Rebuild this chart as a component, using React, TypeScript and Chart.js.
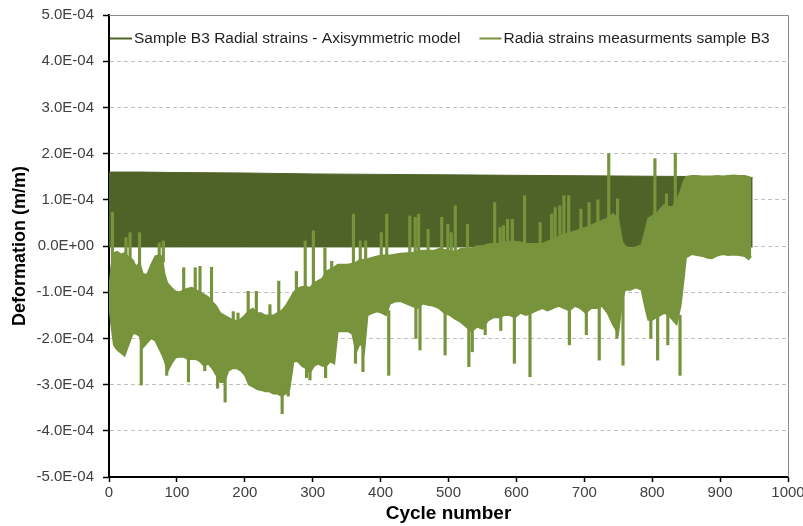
import { useEffect, useRef } from 'react';
import { Chart, registerables } from 'chart.js';

Chart.register(...registerables);

// All deformation values below are in units of 1E-04 m/m
const UNIT = 1e-4;

const MODEL_LABEL = 'Sample B3 Radial strains - Axisymmetric model';
const MEAS_LABEL = 'Radia strains measurments sample B3';

const X_TICKS = [0, 100, 200, 300, 400, 500, 600, 700, 800, 900, 1000];
const Y_TICKS = [-5, -4, -3, -2, -1, 0, 1, 2, 3, 4, 5];

// Axisymmetric model: oscillating band (per-cycle peak / trough)
const MODEL_CYCLES = [0, 50, 100, 200, 300, 400, 500, 600, 700, 800, 900, 948];
const MODEL_UPPER = [1.6, 1.6, 1.59, 1.58, 1.56, 1.55, 1.54, 1.53, 1.52, 1.51, 1.5, 1.48];
const MODEL_LOWER = [-0.02, -0.02, -0.02, -0.02, -0.02, -0.02, -0.02, -0.02, -0.02, -0.02, -0.02, -0.02];

// Measurements: envelope of the measured signal
const MEAS_CYCLES = [
  0, 3, 7, 12, 18, 23, 30, 35, 40, 45, 50, 56,
  62, 68, 73, 78, 82, 86, 92, 98, 104, 110, 116, 122,
  128, 134, 140, 146, 152, 158, 164, 170, 176, 182, 188, 194,
  200, 206, 212, 218, 224, 230, 236, 242, 248, 254, 260, 266,
  272, 278, 284, 290, 296, 302, 308, 314, 320, 326, 332, 337,
  345, 352, 358, 364, 370, 376, 381, 388, 395, 402, 408, 414,
  422, 430, 438, 446, 454, 462, 470, 478, 486, 494, 502, 510,
  518, 526, 534, 542, 550, 558, 566, 574, 582, 590, 598, 606,
  614, 622, 630, 638, 646, 654, 662, 670, 678, 686, 694, 702,
  710, 718, 726, 734, 742, 750, 756, 760, 768, 776, 784, 789,
  794, 800, 806, 812, 818, 824, 830, 836, 842, 846, 850, 858,
  866, 874, 882, 888, 896, 904, 912, 920, 928, 936, 942, 946,
];
const MEAS_UPPER = [
  -0.95, -0.45, -0.15, -0.12, -0.18, -0.15, -0.25, -0.3, -0.45, -0.35, -0.6, -0.62,
  -0.4, -0.22, -0.2, -0.22, -0.6, -0.8, -0.9, -0.98, -1.0, -0.95, -0.92, -0.9,
  -0.95, -1.0, -1.05, -1.1, -1.2, -1.3, -1.45, -1.5, -1.55, -1.6, -1.62, -1.58,
  -1.5, -1.4, -1.35, -1.45, -1.45, -1.5, -1.5, -1.5, -1.45, -1.4, -1.3, -1.15,
  -1.0, -0.92, -0.88, -0.88, -0.9, -0.8, -0.75, -0.7, -0.55, -0.5, -0.45, -0.4,
  -0.4, -0.4, -0.38, -0.35, -0.3, -0.3, -0.28, -0.25, -0.22, -0.2, -0.2, -0.2,
  -0.18, -0.16, -0.15, -0.15, -0.12, -0.1, -0.1, -0.1, -0.06, -0.08, -0.1, -0.12,
  -0.06, -0.05, -0.05, 0.0, 0.0, 0.04, 0.05, 0.05, 0.08, 0.1, 0.1, 0.08,
  0.05, 0.05, 0.05, 0.05, 0.1, 0.15, 0.2, 0.25, 0.28, 0.32, 0.36, 0.4,
  0.45, 0.5, 0.55, 0.6, 0.7, 0.6, 0.1, 0.0, -0.05, -0.02, 0.02, 0.3,
  0.6, 0.65, 0.7, 0.8, 0.9, 0.85, 0.85, 1.0, 1.2, 1.4, 1.5, 1.52,
  1.52, 1.51, 1.51, 1.51, 1.52, 1.51, 1.52, 1.53, 1.52, 1.52, 1.5, 1.48,
];
const MEAS_LOWER = [
  -1.25, -1.7, -2.15, -2.25, -2.32, -2.38, -2.1, -1.9, -1.9, -1.95, -2.2, -2.1,
  -2.0, -2.05, -2.2, -2.35, -2.5, -2.72, -2.55, -2.42, -2.4, -2.4, -2.45, -2.45,
  -2.45, -2.5, -2.6, -2.55, -2.65, -2.8, -2.95, -2.95, -2.7, -2.65, -2.65, -2.7,
  -2.8, -3.0, -3.05, -3.1, -3.12, -3.15, -3.15, -3.2, -3.2, -3.25, -3.2, -3.1,
  -2.5, -2.5, -2.6, -2.65, -2.75, -2.6, -2.55, -2.6, -2.6, -2.5, -2.55, -1.85,
  -1.85, -1.85, -1.9, -2.3, -2.1, -2.3, -1.5, -1.45, -1.42, -1.45, -1.5, -1.25,
  -1.2, -1.2, -1.25, -1.3, -1.35, -1.25, -1.28, -1.3, -1.35, -1.45, -1.5, -1.58,
  -1.65, -1.75, -1.85, -1.75, -1.8, -1.62, -1.55, -1.55, -1.5, -1.5, -1.55, -1.45,
  -1.5, -1.45, -1.4, -1.35, -1.4, -1.35, -1.3, -1.35, -1.4, -1.3, -1.35, -1.45,
  -1.35, -1.35, -1.3, -1.45, -1.7, -1.9, -1.2, -0.95, -0.95, -0.9, -0.95, -1.3,
  -1.6, -1.6, -1.55, -1.5, -1.45, -1.5, -1.6, -1.7, -1.3, -0.8, -0.25, -0.18,
  -0.2, -0.22, -0.26, -0.27, -0.21, -0.18, -0.2, -0.19, -0.2, -0.22, -0.29, -0.22,
];

// Measurements: isolated spikes / dips (from -> to)
const SPIKE_CYCLES = [
  5, 25, 31, 45, 47.5, 74, 80, 85, 110, 117, 127, 134,
  141, 151, 160, 171, 183, 190, 205, 217, 237, 250, 255, 264,
  276, 289, 291, 296, 301, 318, 319, 328, 360, 363, 370, 374,
  378, 401, 409, 412, 443, 451, 452, 456, 458, 470, 490, 495,
  499, 504, 510, 528, 530, 535, 554, 568, 576, 577, 581, 587,
  594, 597, 612, 620, 635, 652, 657, 664, 670, 677, 678, 695,
  703, 707, 720, 722, 736, 748, 749, 757, 798, 804, 808, 821,
  823, 834, 841,
];
const SPIKE_FROM = [
  -0.5, -0.3, -0.4, -0.5, -2.0, -0.3, -0.35, -2.5, -1.05, -2.3, -1.05, -1.1,
  -2.5, -1.3, -2.7, -2.8, -1.7, -1.7, -1.5, -1.55, -1.6, -1.55, -3.1, -3.0,
  -1.1, -1.0, -2.5, -2.6, -0.9, -0.8, -2.5, -0.6, -0.5, -2.1, -0.4, -2.0,
  -0.4, -0.3, -0.3, -1.4, -0.25, -0.25, -1.2, -0.25, -1.2, -0.2, -0.2, -1.3,
  -0.2, -0.2, -0.2, -0.15, -1.6, -1.7, -1.7, -0.1, -0.1, -1.45, -0.1, -0.05,
  -0.05, -1.4, -0.05, -1.4, -0.05, 0.0, 0.0, 0.1, 0.1, 0.15, -1.3, 0.2,
  -1.3, 0.3, 0.4, -1.2, 0.5, -1.7, 0.5, -0.9, -1.5, 0.5, -1.4, 0.7,
  -1.4, 0.7, -1.5,
];
const SPIKE_TO = [
  0.73, 0.18, 0.29, 0.29, -3.01, 0.07, 0.11, -2.8, -0.47, -2.94, -0.47, -0.44,
  -2.7, -0.46, -3.08, -3.38, -1.42, -1.45, -0.98, -0.98, -1.27, -0.76, -3.63, -3.25,
  -0.55, 0.11, -2.85, -2.9, 0.33, -0.04, -2.85, -0.33, 0.69, -2.54, 0.11, -2.72,
  0.11, 0.29, 0.69, -2.8, 0.65, 0.62, -2.0, 0.69, -2.25, 0.36, 0.62, -2.36,
  0.47, 0.29, 0.87, 0.47, -2.61, -2.29, -1.92, 0.94, 0.4, -1.83, 0.44, 0.58,
  0.58, -2.54, 1.09, -2.83, 0.51, 0.69, 0.83, 0.87, 1.09, 1.09, -2.14, 0.8,
  -1.92, 0.94, 1.0, -2.47, 2.0, -2.0, 1.02, -2.58, -2.0, 1.89, -2.47, 1.13,
  -2.14, 2.01, -2.8,
];

const DARK = '#4F6228';
const GREEN = '#77933C';
const FONT = "'Liberation Sans', Arial, sans-serif";

function pts(cycles: number[], vals: number[]) {
  return cycles.map((c, i) => ({ x: c, y: vals[i] * UNIT }));
}

function fmtExp(v: number) {
  const [m, e] = Number(v).toExponential(1).split('e');
  const n = parseInt(e, 10);
  const sign = n < 0 ? '-' : '+';
  return `${m}E${sign}${String(Math.abs(n)).padStart(2, '0')}`;
}

const framePlugin = {
  id: 'frameAndLegend',
  afterDraw(chart: any) {
    const { ctx, chartArea } = chart;
    ctx.save();
    // plot area frame (top & right)
    ctx.strokeStyle = '#8C8C8C';
    ctx.lineWidth = 1;
    ctx.beginPath();
    ctx.moveTo(chartArea.left, chartArea.top + 0.5);
    ctx.lineTo(chartArea.right + 0.5, chartArea.top + 0.5);
    ctx.lineTo(chartArea.right + 0.5, chartArea.bottom);
    ctx.stroke();
    // legend inside plot area
    ctx.font = `15.5px ${FONT}`;
    ctx.textBaseline = 'middle';
    ctx.textAlign = 'left';
    let x = chartArea.left + 1;
    const y = chartArea.top + 23.5;
    [0, 2].forEach((i) => {
      const ds = chart.data.datasets[i];
      ctx.strokeStyle = ds.borderColor;
      ctx.lineWidth = 2;
      ctx.beginPath();
      ctx.moveTo(x, y);
      ctx.lineTo(x + 22, y);
      ctx.stroke();
      ctx.fillStyle = '#1F1F1F';
      ctx.fillText(ds.label, x + 24, y);
      x += 24 + ctx.measureText(ds.label).width + 19;
    });
    ctx.restore();
  },
};

export default function App() {
  const ref = useRef<HTMLCanvasElement>(null);

  useEffect(() => {
    const canvas = ref.current;
    if (!canvas) return;
    const chart = new Chart(canvas, {
      type: 'line',
      data: {
        datasets: [
          {
            label: MODEL_LABEL,
            data: pts(MODEL_CYCLES, MODEL_UPPER),
            borderColor: DARK,
            backgroundColor: DARK,
            borderWidth: 1,
            pointRadius: 0,
            tension: 0,
            fill: false,
            order: 5,
          },
          {
            label: '',
            data: pts(MODEL_CYCLES, MODEL_LOWER),
            borderColor: DARK,
            backgroundColor: DARK,
            borderWidth: 1,
            pointRadius: 0,
            tension: 0,
            fill: '-1',
            order: 5,
          },
          {
            label: MEAS_LABEL,
            data: pts(MEAS_CYCLES, MEAS_UPPER),
            borderColor: GREEN,
            backgroundColor: GREEN,
            borderWidth: 1.5,
            pointRadius: 0,
            tension: 0,
            fill: false,
            order: 2,
          },
          {
            label: '',
            data: pts(MEAS_CYCLES, MEAS_LOWER),
            borderColor: GREEN,
            backgroundColor: GREEN,
            borderWidth: 1.5,
            pointRadius: 0,
            tension: 0,
            fill: '-1',
            order: 2,
          },
          {
            type: 'bar',
            label: '',
            data: SPIKE_CYCLES.map((c, i) => ({ x: c, y: [SPIKE_FROM[i] * UNIT, SPIKE_TO[i] * UNIT] })),
            backgroundColor: GREEN,
            borderWidth: 0,
            barThickness: 2.5,
            grouped: false,
            order: 1,
          } as any,
        ],
      },
      options: {
        responsive: false,
        animation: false,
        events: [],
        layout: { padding: { left: 0, right: 15, top: 15, bottom: 0 } },
        plugins: {
          legend: { display: false },
          tooltip: { enabled: false },
        },
        scales: {
          x: {
            type: 'linear',
            min: 0,
            max: 1000,
            offset: false,
            afterBuildTicks: (s: any) => {
              s.ticks = X_TICKS.map((v) => ({ value: v }));
            },
            afterFit: (s: any) => {
              s.height = 49;
              s.paddingLeft = 0;
              s.paddingRight = 0;
            },
            grid: {
              offset: false,
              drawOnChartArea: false,
              drawTicks: true,
              tickLength: 5,
              tickColor: '#000',
              tickWidth: 1.5,
            },
            border: { display: true, color: '#000', width: 2 },
            ticks: {
              color: '#404040',
              font: { family: FONT, size: 15 },
              padding: 2,
              maxRotation: 0,
              autoSkip: false,
              callback: (v: any) => String(v),
            },
            title: {
              display: true,
              text: 'Cycle number',
              color: '#000',
              font: { family: FONT, size: 19, weight: 'bold' },
              padding: { top: 0, bottom: 1 },
            },
          },
          y: {
            type: 'linear',
            min: -5 * UNIT,
            max: 5 * UNIT,
            afterBuildTicks: (s: any) => {
              s.ticks = Y_TICKS.map((v) => ({ value: v * UNIT }));
            },
            afterFit: (s: any) => {
              s.width = 109;
              s.paddingTop = 0;
              s.paddingBottom = 0;
            },
            grid: {
              color: '#BFBFBF',
              lineWidth: 1,
              drawTicks: true,
              tickLength: 6,
              tickColor: '#000',
              tickWidth: 1.5,
              tickBorderDash: [],
            },
            border: { display: true, color: '#000', width: 2, dash: [4, 3] },
            ticks: {
              color: '#404040',
              font: { family: FONT, size: 15 },
              padding: 9,
              autoSkip: false,
              callback: (v: any) => fmtExp(Number(v)),
            },
            title: {
              display: true,
              text: 'Deformation (m/m)',
              color: '#000',
              font: { family: FONT, size: 18, weight: 'bold' },
              padding: { top: 9, bottom: 0 },
            },
          },
        },
      } as any,
      plugins: [framePlugin],
    });
    return () => chart.destroy();
  }, []);

  return (
    <div style={{ position: 'absolute', left: 0, top: 0, width: 803, height: 526, background: '#fff' }}>
      <canvas ref={ref} width={803} height={526} style={{ display: 'block' }} />
    </div>
  );
}
